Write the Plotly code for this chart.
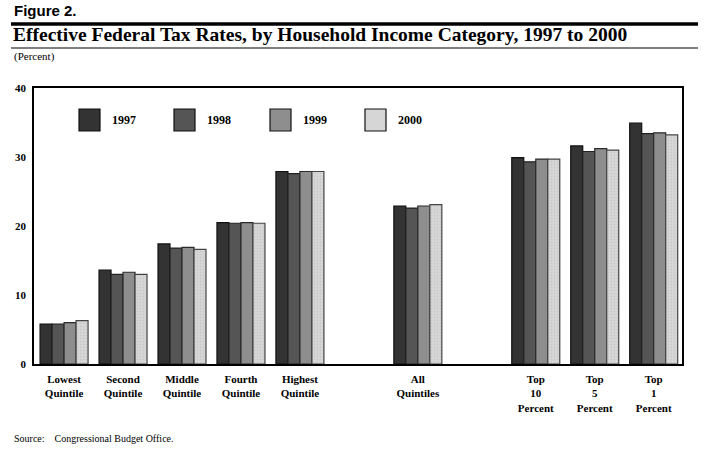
import plotly.graph_objects as go

categories = ["Lowest<br>Quintile", "Second<br>Quintile", "Middle<br>Quintile", "Fourth<br>Quintile",
              "Highest<br>Quintile", "All<br>Quintiles", "Top<br>10<br>Percent", "Top<br>5<br>Percent",
              "Top<br>1<br>Percent"]
slots = [0, 1, 2, 3, 4, 6, 8, 9, 10]
years = ["1997", "1998", "1999", "2000"]
v1997 = [5.8, 13.6, 17.4, 20.5, 27.9, 22.9, 29.9, 31.6, 34.9]
v1998 = [5.8, 13.0, 16.8, 20.4, 27.6, 22.6, 29.3, 30.8, 33.4]
v1999 = [6.0, 13.3, 16.9, 20.5, 27.9, 22.9, 29.7, 31.2, 33.5]
v2000 = [6.3, 13.0, 16.6, 20.4, 27.9, 23.1, 29.7, 31.0, 33.2]
y_ticks = [0, 10, 20, 30, 40]
series = [v1997, v1998, v1999, v2000]

fills = ["#333333", "#555555", "#8e8e8e", "#d6d6d6"]
edges = ["#111111", "#222222", "#2a2a2a", "#444444"]

SERIF = "Liberation Serif"

fig = go.Figure()
for yr, vals, fc, ec in zip(years, series, fills, edges):
    marker = dict(color=fc, line=dict(color=ec, width=1.2))
    if yr == "2000":
        marker["pattern"] = dict(shape=".", size=3, solidity=0.15, fgcolor="#c4c4c4",
                                 bgcolor=fc, fillmode="replace")
    fig.add_trace(go.Bar(x=slots, y=vals, name=yr, marker=marker, showlegend=False))

# plot area in pixels
L, R, T, B = 34, 682, 88, 364
W, H = 710, 455
pw, ph = R - L, B - T


def px(x):
    return (x - L) / pw


def py(y):
    return (B - y) / ph


shapes = []
annotations = []

# legend swatches
leg_x = [79, 174, 270, 365]
for yr, fc, ec, lx in zip(years, fills, edges, leg_x):
    shapes.append(dict(type="rect", xref="paper", yref="paper",
                       x0=px(lx), x1=px(lx + 21), y0=py(131), y1=py(109),
                       fillcolor=fc, line=dict(color="#111111", width=1.2)))
    annotations.append(dict(text="<b>%s</b>" % yr, xref="paper", yref="paper", x=px(lx + 31), y=py(120),
                            xanchor="left", yanchor="middle", showarrow=False,
                            font=dict(family=SERIF, size=12, color="black")))

# header lines
shapes.append(dict(type="line", xref="paper", yref="paper", x0=px(11), x1=px(698),
                   y0=py(24), y1=py(24), line=dict(color="black", width=3.5)))
shapes.append(dict(type="line", xref="paper", yref="paper", x0=px(11), x1=px(698),
                   y0=py(48), y1=py(48), line=dict(color="black", width=1.2)))

annotations.append(dict(text="<b>Figure 2.</b>", xref="paper", yref="paper", x=px(12), y=py(21.5),
                        xanchor="left", yanchor="bottom", showarrow=False,
                        font=dict(family="Liberation Sans", size=15, color="black")))
annotations.append(dict(text="<b>Effective Federal Tax Rates, by Household Income Category, 1997 to 2000</b>",
                        xref="paper", yref="paper", x=px(11), y=py(47), xanchor="left", yanchor="bottom",
                        showarrow=False, font=dict(family=SERIF, size=19.5, color="black")))
annotations.append(dict(text="(Percent)", xref="paper", yref="paper", x=px(12), y=py(57),
                        xanchor="left", yanchor="middle", showarrow=False,
                        font=dict(family=SERIF, size=11, color="black")))
annotations.append(dict(text="Source:&nbsp;&nbsp;&nbsp;&nbsp;Congressional Budget Office.", xref="paper",
                        yref="paper", x=px(12), y=py(438), xanchor="left", yanchor="middle",
                        showarrow=False, font=dict(family=SERIF, size=10, color="black")))

fig.update_layout(
    width=W, height=H,
    margin=dict(l=L, r=W - R, t=T, b=H - B, pad=0),
    paper_bgcolor="white", plot_bgcolor="white",
    barmode="group", bargap=0.186, bargroupgap=0,
    showlegend=False,
    shapes=shapes, annotations=annotations,
    xaxis=dict(range=[-0.51, 10.48], tickvals=slots, ticktext=["<b>%s</b>" % c for c in categories],
               showgrid=False, zeroline=False, showline=True, linecolor="black", linewidth=1.5,
               mirror=True, ticks="", tickfont=dict(family=SERIF, size=11, color="black"),
               ticklabelstandoff=4),
    yaxis=dict(range=[0, 40], tickvals=y_ticks, ticktext=["<b>%d</b>" % t for t in y_ticks],
               showgrid=False, zeroline=False, showline=True, linecolor="black", linewidth=1.5,
               mirror=True, ticks="", tickfont=dict(family=SERIF, size=11, color="black"),
               ticklabelstandoff=4),
)

fig.write_html("out.html", config={"displayModeBar": False},
               post_script="document.body.style.margin='0';document.body.style.padding='0';")
